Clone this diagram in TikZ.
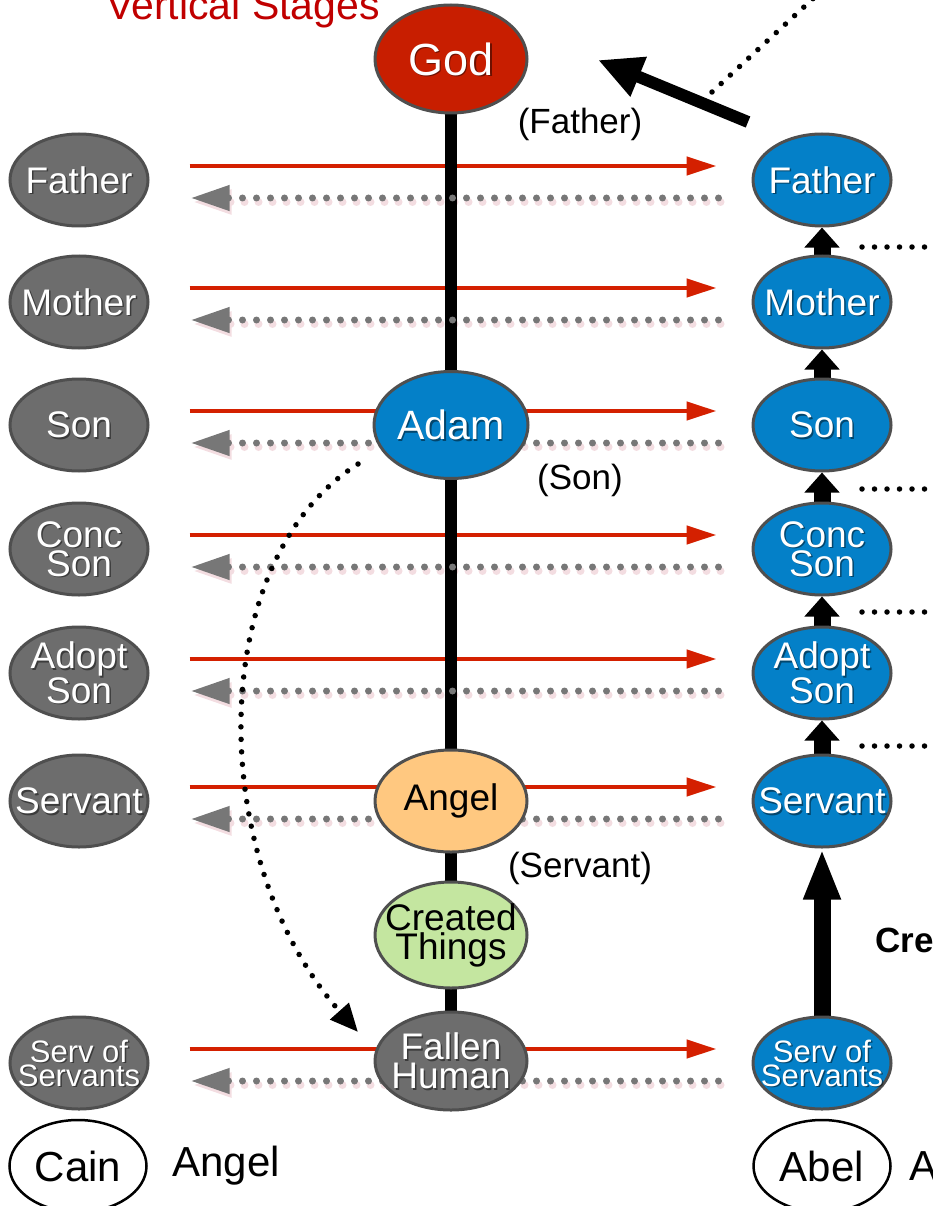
\documentclass[tikz,border=0pt]{standalone}
\usepackage{fontspec}
\setmainfont{Liberation Sans}
\usetikzlibrary{shapes.geometric,arrows.meta}
\definecolor{ngray}{HTML}{6D6D6D}
\definecolor{nedge}{HTML}{4F4F4F}
\definecolor{nblue}{HTML}{0480C8}
\definecolor{nred}{HTML}{C81E00}
\definecolor{norange}{HTML}{FFC880}
\definecolor{ngreen}{HTML}{C4E6A0}
\definecolor{arred}{HTML}{D42000}
\definecolor{dotgray}{HTML}{777777}
\definecolor{dotshadow}{HTML}{F3DDE1}
\definecolor{titlered}{HTML}{C00000}
\newcommand\fsNode{\fontsize{37}{29}\selectfont}
\newcommand\fsServ{\fontsize{31}{24}\selectfont}
\newcommand\fsGod{\fontsize{45}{45}\selectfont}
\newcommand\fsAdam{\fontsize{41}{41}\selectfont}
\newcommand\fsBig{\fontsize{42}{42}\selectfont}
\newcommand\fsPar{\fontsize{35}{35}\selectfont}
\newcommand\fsTitle{\fontsize{41}{41}\selectfont}
\pgfdeclarelayer{bg}
\pgfdeclarelayer{shadowlayer}
\pgfsetlayers{shadowlayer,bg,main}
\tikzset{
  base/.style={ellipse, draw=nedge, line width=3pt, inner sep=0pt,
               minimum width=138pt, minimum height=92pt},
  gnode/.style={base, fill=ngray},
  bnode/.style={base, fill=nblue},
  txt/.style 2 args={
    label={[font=#1, text=black, opacity=0.45, xshift=1.5pt, yshift=-1.5pt,
            align=center, inner sep=0pt]center:{#2}},
    label={[font=#1, text=white, align=center, inner sep=0pt]center:{#2}}},
  btxt/.style 2 args={
    label={[font=#1, text=black, align=center, inner sep=0pt]center:{#2}}},
  redarrow/.style={draw=arred, line width=4.5pt,
                   -{Triangle[length=30pt,width=18pt]}},
  dotarrow/.style={draw=dotgray, line width=7pt, line cap=round,
                   dash pattern=on 0pt off 14pt,
                   -{Triangle[length=39pt,width=24pt]}},
  dotshade/.style={draw=dotshadow, line width=8pt, line cap=round,
                   dash pattern=on 0pt off 14pt,
                   -{Triangle[length=39pt,width=23pt]}},
  blackdots/.style={draw=black, line width=5.5pt, line cap=round,
                    dash pattern=on 0pt off 12.5pt},
  uparrow/.style={draw=black, line width=17pt,
                  -{Triangle[length=20pt,width=34pt]}},
}
\begin{document}
\begin{tikzpicture}[x=1pt,y=-1pt]
\useasboundingbox (0,0) rectangle (933,1206);
\clip (0,0) rectangle (933,1206);

% title
\node[font=\fsTitle, text=titlered, anchor=base, inner sep=0pt] (title) at (243,20) {Vertical Stages};

% centre column
\node[base, fill=nred, minimum width=152pt, minimum height=108pt, txt={\fsGod}{God}] (god) at (451,59) {};
\node[bnode, minimum width=154pt, minimum height=107pt, txt={\fsAdam}{Adam}] (adam) at (451,425) {};
\node[base, fill=norange, minimum width=152pt, minimum height=102pt, btxt={\fsNode}{Angel}] (angel) at (451,801) {};
\node[base, fill=ngreen, minimum width=152pt, minimum height=106pt, btxt={\fsNode}{Created\\Things}] (created) at (451,935) {};
\node[gnode, minimum width=152pt, minimum height=98pt, txt={\fsNode}{Fallen\\Human}] (fallen) at (451,1061) {};

% left column
\node[gnode, txt={\fsNode}{Father}] (lF) at (79,180) {};
\node[gnode, txt={\fsNode}{Mother}] (lM) at (79,302) {};
\node[gnode, txt={\fsNode}{Son}] (lS) at (79,425) {};
\node[gnode, txt={\fsNode}{Conc\\Son}] (lC) at (79,549) {};
\node[gnode, txt={\fsNode}{Adopt\\Son}] (lA) at (79,673) {};
\node[gnode, txt={\fsNode}{Servant}] (lV) at (79,801) {};
\node[gnode, txt={\fsServ}{Serv of\\Servants}] (lX) at (79,1063) {};

% right column
\node[bnode, txt={\fsNode}{Father}] (rF) at (822,180) {};
\node[bnode, txt={\fsNode}{Mother}] (rM) at (822,302) {};
\node[bnode, txt={\fsNode}{Son}] (rS) at (822,425) {};
\node[bnode, txt={\fsNode}{Conc\\Son}] (rC) at (822,549) {};
\node[bnode, txt={\fsNode}{Adopt\\Son}] (rA) at (822,673) {};
\node[bnode, txt={\fsNode}{Servant}] (rV) at (822,801) {};
\node[bnode, txt={\fsServ}{Serv of\\Servants}] (rX) at (822,1063) {};

% bottom row
\node[ellipse, draw=black, line width=2.5pt, fill=white, inner sep=0pt,
      minimum width=137pt, minimum height=92pt, font=\fsBig] (cain) at (78,1166) {Cain};
\node[font=\fsBig, inner sep=0pt] (angeltxt) at (226,1166) {Angel};
\node[ellipse, draw=black, line width=2.5pt, fill=white, inner sep=0pt,
      minimum width=137pt, minimum height=92pt, font=\fsBig] (abel) at (822,1166) {Abel};
\node[font=\fsBig, inner sep=0pt, anchor=west] (atxt) at (909,1166) {A};

% parenthetical labels
\node[font=\fsPar, inner sep=0pt] (pF) at (580,124) {(Father)};
\node[font=\fsPar, inner sep=0pt] (pS) at (580,480) {(Son)};
\node[font=\fsPar, inner sep=0pt] (pV) at (580,868) {(Servant)};
\node[font=\fsPar\bfseries, inner sep=0pt, anchor=base west] (cre) at (875,952) {Cre};

\begin{pgfonlayer}{bg}
\foreach \r in {F,M,S,C,A,V,X}{
  \draw[redarrow] ([xshift=40pt,yshift=14pt]l\r.east) -- ([xshift=-35pt,yshift=14pt]r\r.west);
}
% vertical spine
\draw[line width=12pt] (god.south) -- (fallen.north);
\foreach \r in {F,M,S,C,A,V,X}{
  \draw[dotarrow] ([xshift=-33pt,yshift=-18pt]r\r.west) -- ([xshift=41pt,yshift=-18pt]l\r.east);
}
% right column up arrows
\draw[uparrow] (rM.north) -- (rF.south);
\draw[uparrow] (rS.north) -- (rM.south);
\draw[uparrow] (rC.north) -- (rS.south);
\draw[uparrow] (rA.north) -- (rC.south);
\draw[uparrow] (rV.north) -- (rA.south);
\draw[draw=black, line width=17pt, -{Triangle[length=51pt,width=34pt]}] (rX.north) -- (rV.south);
\end{pgfonlayer}
\begin{pgfonlayer}{shadowlayer}
\foreach \r in {F,M,S,C,A,V,X}{
  \draw[dotshade] ([xshift=-31pt,yshift=-22pt]r\r.west) -- ([xshift=43pt,yshift=-22pt]l\r.east);
}
\end{pgfonlayer}

% right-side dotted lines
\foreach \yy/\nm in {247/a,489/b,612/c,746/d}{
  \coordinate (ds\nm) at (862,\yy);
  \coordinate (de\nm) at (945,\yy);
  \draw[blackdots] (ds\nm) -- (de\nm);
}

% top arrow and dotted line
\coordinate (tailA) at (748,122);
\coordinate (tipA) at (598,60);
\draw[line width=12pt, -{Triangle[length=44pt,width=40pt]}] (tailA) -- (tipA);
\coordinate (td1) at (712,92);
\coordinate (td2) at (818,-6);
\draw[blackdots] (td1) -- (td2);

% curved dotted arrow Adam -> Fallen Human
\draw[blackdots, -{Triangle[length=28pt,width=24pt]}]
  ([xshift=-93pt,yshift=-39pt]adam.center) .. controls (205,560) and (205,860) ..
  ([xshift=-93pt,yshift=29pt]fallen.center);
\end{tikzpicture}
\end{document}
